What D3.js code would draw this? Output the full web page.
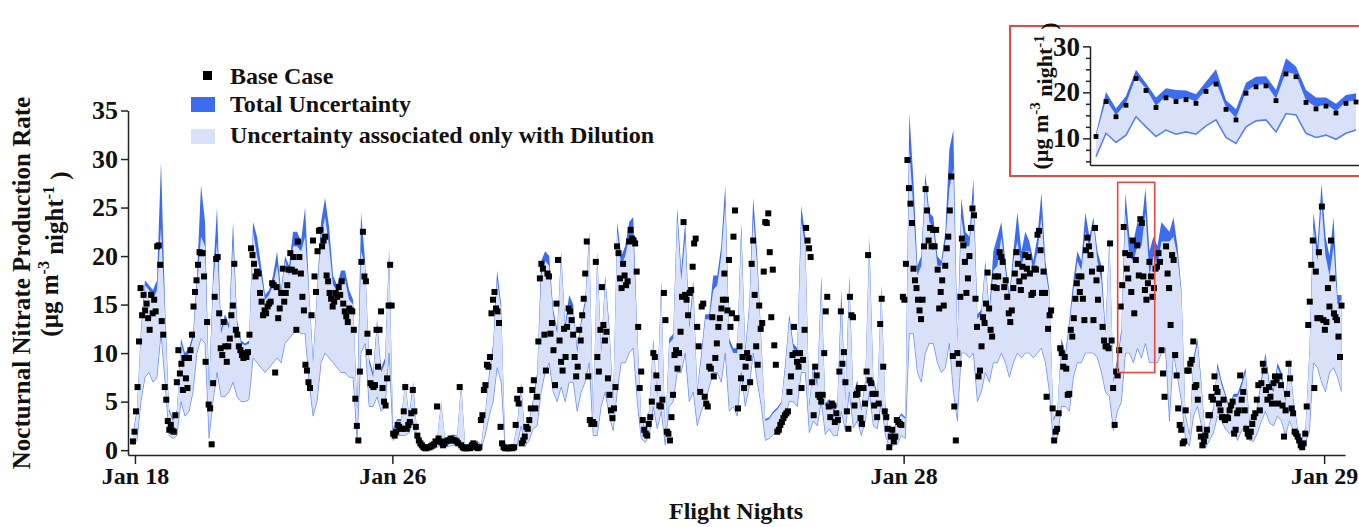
<!DOCTYPE html>
<html>
<head>
<meta charset="utf-8">
<script src="https://cdn.jsdelivr.net/npm/d3@7"></script>
<style>
  body { margin: 0; background: #fff; }
  svg { display: block; }
  text { font-family: "Liberation Serif", "Times New Roman", serif; font-weight: bold; fill: #111; }
</style>
</head>
<body>
<svg id="chart" width="1359" height="527"></svg>
<script>
// base case, one value per sample along the flight nights
const baseCase = [
  0.9,1.9,4.0,6.5,11.2,16.7,13.9,16.0,14.4,15.1,13.6,12.4,16.0,14.1,15.5,14.3,21.0,21.1,19.1,13.3,11.9,6.5,
  5.2,3.0,2.1,2.6,2.0,1.9,3.6,7.0,10.3,7.9,8.9,6.2,9.5,7.4,6.4,9.5,10.3,11.9,14.8,16.3,
  17.5,19.1,20.4,20.3,20.3,17.9,9.1,13.2,4.7,4.3,0.6,6.9,15.8,19.7,19.9,14.1,10.5,9.8,13.2,10.7,
  9.1,10.7,11.5,13.9,14.9,19.2,12.4,11.9,10.7,10.3,9.8,9.5,10.0,9.6,10.1,11.9,20.8,20.1,19.2,17.9,
  18.4,18.2,16.2,15.3,13.9,14.4,14.1,14.8,15.1,15.3,17.2,17.0,8.0,16.8,13.6,14.6,16.2,18.7,15.3,16.2,
  17.0,18.6,20.3,18.6,19.9,18.4,12.4,21.5,19.9,18.2,15.8,14.4,8.8,8.2,7.0,6.4,13.9,21.6,17.9,16.3,
  20.5,22.6,22.7,21.0,21.6,22.0,18.0,17.4,16.2,15.6,14.8,15.3,16.2,15.8,16.8,16.0,17.4,15.1,14.3,13.8,
  13.2,14.6,14.4,14.3,12.4,5.3,2.5,1.0,8.1,19.4,22.5,17.9,17.4,12.0,10.1,6.9,6.7,6.5,6.7,12.4,
  8.6,12.4,14.3,6.4,5.0,4.6,7.4,14.9,19.1,14.9,1.7,1.5,1.9,2.6,2.4,2.2,2.2,4.0,6.5,
  2.2,2.6,2.9,3.8,6.2,4.0,2.4,1.5,1.0,0.7,0.5,0.3,0.2,0.2,0.3,0.3,0.4,0.5,
  0.6,0.9,4.5,1.2,0.9,0.8,0.5,0.7,0.9,1.0,1.0,1.2,1.1,1.0,1.0,0.9,0.7,6.5,0.5,0.3,
  0.2,0.2,0.2,0.3,0.2,0.5,0.7,0.5,0.3,0.2,0.3,3.1,3.6,6.2,6.7,8.8,8.6,9.6,14.1,
  15.5,16.3,14.6,14.3,13.1,2.4,0.7,0.3,0.2,0.2,0.2,0.2,0.3,0.2,0.3,2.6,5.3,4.8,6.2,0.7,
  1.0,1.4,2.4,2.2,3.1,4.3,6.2,7.2,4.3,5.5,11.2,17.7,19.2,18.7,11.9,8.2,18.2,17.9,12.0,13.1,
  10.3,6.7,15.1,19.6,11.3,9.1,8.2,12.5,9.6,12.7,14.6,14.3,13.4,11.9,9.6,7.6,8.6,12.4,11.3,13.9,
  15.6,18.2,21.5,7.6,3.1,2.7,2.9,2.7,19.4,9.6,8.1,12.4,16.8,12.9,11.3,12.2,7.4,5.7,4.1,3.3,
  4.3,6.5,21.0,20.3,17.7,16.7,19.2,
  18.0,17.0,17.4,21.5,22.7,21.8,21.6,21.3,18.4,12.7,6.4,8.1,3.1,2.1,1.7,1.5,2.7,3.4,5.0,
  10.0,9.6,7.7,6.4,4.6,4.5,5.2,16.2,13.4,1.9,1.7,1.0,3.4,5.7,9.8,10.3,8.4,10.0,12.2,15.8,
  23.5,16.0,15.5,13.9,16.2,16.5,18.9,21.3,21.8,12.7,10.7,6.0,14.8,15.1,5.5,4.8,4.5,8.6,8.4,
  13.7,7.6,9.5,11.0,12.7,13.6,14.6,15.5,18.2,15.5,14.4,19.6,12.7,14.1,22.0,24.7,13.6,4.3,
  10.7,7.4,9.6,6.4,8.6,10.0,9.5,7.0,19.2,21.6,16.0,10.7,8.8,14.9,12.5,13.1,18.4,23.5,
  23.4,24.4,20.4,13.7,18.6,10.8,8.8,1.9,2.1,2.6,2.9,3.3,3.6,3.8,4.0,6.0,7.6,
  9.8,12.7,10.0,9.1,8.6,10.0,6.4,9.3,12.4,22.9,21.6,20.8,19.9,7.0,3.6,8.6,7.7,
  5.7,5.5,5.0,5.7,10.0,14.3,15.8,4.5,3.4,4.8,4.6,2.9,3.8,3.1,8.1,14.3,8.9,10.1,
  7.0,4.0,2.2,15.8,13.9,13.7,4.6,5.7,5.8,6.4,3.3,2.7,6.4,4.8,8.1,20.1,7.2,6.9,
  5.8,4.6,5.8,3.4,4.8,13.0,15.6,8.6,4.0,3.4,2.2,0.3,1.4,2.1,0.9,1.4,3.1,2.9,2.7,2.6,15.8,15.5,
  19.2,29.9,27.0,25.4,23.4,18.7,17.5,16.7,15.5,14.4,13.5,15.5,21.0,26.9,24.7,21.6,22.9,21.0,
  22.7,21.0,22.7,18.6,14.6,16.3,17.5,14.9,19.0,20.8,22.0,24.7,28.2,9.7,4.5,1.0,10.0,
  8.9,15.8,21.8,21.1,19.4,16.2,17.7,20.0,22.9,24.9,24.2,15.6,12.7,7.6,8.2,10.7,13.7,13.1,
  15.1,18.3,14.6,12.4,11.7,16.8,17.9,16.7,17.9,20.4,19.9,19.4,16.8,17.5,15.8,14.1,13.2,
  14.4,16.7,18.2,20.4,19.2,17.4,16.5,18.9,17.9,20.1,18.7,19.9,18.2,16.0,16.2,18.7,18.6,
  22.2,22.6,20.6,16.2,18.4,16.2,5.5,12.5,13.9,14.4,4.3,1.0,1.9,2.2,3.8,10.5,10.0,8.6,9.6,
  8.4,5.7,5.8,12.4,11.7,13.6,15.6,17.2,17.9,16.3,17.9,15.6,13.4,20.6,21.9,21.0,20.1,18.4,
  13.4,22.9,17.5,15.5,18.7,18.7,12.7,11.3,10.7,10.7,10.5,
  21.3,11.3,6.4,2.6,8.1,7.7,10.3,14.8,17.0,23.0,20.3,18.7,17.7,20.1,16.3,21.6,14.1,19.6,21.1,18.0,23.8,
  23.4,17.9,16.5,15.5,17.2,19.4,17.9,15.8,16.7,18.7,18.9,20.3,19.4,10.3,7.9,5.5,21.0,18.2,16.7,12.9,20.1,19.6,
  9.8,7.7,4.3,2.6,2.1,0.7,0.9,4.1,8.2,8.2,8.9,9.3,11.2,6.5,6.7,5.2,2.2,1.4,0.5,0.9,1.5,
  2.1,3.6,3.6,5.5,5.2,7.6,6.4,6.0,4.8,4.1,3.4,5.2,3.1,3.4,3.3,4.1,4.6,5.0,1.7,2.1,3.8,4.1,7.7,
  5.2,6.0,4.1,2.2,1.7,1.4,1.9,2.7,3.4,3.8,5.2,6.7,4.1,6.9,8.9,8.2,6.2,5.2,6.5,5.5,4.8,6.9,
  7.6,7.2,4.8,7.6,6.7,4.6,1.4,4.1,5.8,8.9,7.4,4.3,3.8,1.9,1.7,1.4,1.0,0.5,0.3,0.7,1.7,4.5,
  12.9,15.3,19.1,21.6,6.4,18.4,13.6,20.4,13.6,25.1,13.4,12.4,13.2,16.7,14.8,21.6,17.7,14.1,13.7,13.4,11.7,9.6,14.9
]

// uncertainty envelopes, sampled more coarsely over the same span
const bandLow = [
  0.5,1,5,7.5,8,7,7.5,12,7,1.5, 1.2,1.5,5,3.5,4,6,10,11.5,11,1.2, 5,8,5.5,5.5,6,7,5.5,5,5,5.2,
  9.5,9,8.5,8,8.5,9,9.5,9,11,11.5, 12,12.5,12,12,7,3.5,5,9,10,9.5, 9,8.5,8,8,7.5,7.5,1,10,11,4.5, 4.5,5.5,
  4,4.5,10,1,1.5,1.5,1.5,1.8,3,0.6, 0.1,0.05,0.1,0.1,0.3,0.5,0.3,0.4,0.5,0.5, 0.3,0.1,0.05,0.05,0.2,0.1,1.5,3.5,5,8.5,
  7,0.1,0.05,0.05,0.5,2.5,0.4,1,2.2,2.5, 6,8,9,6,5,6.5,5,7,7,4, 6,7,9,1.5,1.5,4.5,6,3.5,2,6, 9,9,
  10,10.5,5,1.2,0.8,1.5,4.5,2.2,4,0.5, 4.5,5,8,8,10,5,6,2.5,4,5, 6.5,8,8,7,10,4,4.5,3.5,8,4.5,
  6.5,10,7,4.5,1,1.2,1.6,1.8,2,3.5, 5,5,4.5,8,8,1.8,3,2.5,5,1.6, 2.2,1.5,1.5,4,2,6,2.3,3,1.5,3, 6,
  2.5,2.2,5,1.5,0.3,0.5,0.6,1.5,1.2,12, 12,8,7,10,11,11,9,8,8.5,11, 6,3,10,10,9.5,10,5,6,8,7,
  9,9,10,9,7.5,9,10,9.5,10,10, 9.5,10,10.5,9,6,0.7,1.3,4.5,4.5,4, 7.5,9,9,10,10,10,9.5,8,6,5.5, 2,
  4,5,10,10,9,10.5,9.5,11,9,9, 9,10,10.5,3,10,7.5,5,1.2,0.4,3.5, 4.5,2.5,0.2,1,1.8,3.5,3,2.2,1.7,2.3,
  1,2,2.6,1,0.9,1.8,3,4,2.8,2.5, 3.5,3,1.5,3,2,0.8,0.2,0.8,2,9, 8.5,7,6,8,8.5,7.5,6
]
const bandDilution = [
  1.5,4,12,17,16.5,15.5,16.5,23,14,4, 3,4,11,9.5,10,11.5,17,22,21,6, 17,21.5,12,13.5,12.5,21.5,13,11,10.8,11,
  22.5,20,18,15.5,16,17,19,16,19.5,18, 21,21,20.5,22,16,9,16,22,24,21, 17,16.5,17.5,17.5,15.5,15,4,20.5,19,9, 7.5,13,
  8,9,20,2,3,3,6.8,3.5,6.5,1.6, 0.6,0.4,0.5,0.6,1.2,4.8,1,1.3,1.5,1.4, 6.8,0.5,0.4,0.4,0.9,0.5,3.6,7.5,10.5,17.5,
  14.5,0.6,0.4,0.4,2.5,6.5,1.3,3,5,7.5, 18,19.5,19,14,12,20,12.5,15,14.5,10, 13,15,22,3.6,20,10,17.5,12.5,5,22.5, 19,20,
  22,22,12,3.3,2,4,11,5.5,17,1.5, 11,11.5,24,17.5,22,12.5,16.5,6,9.5,13.5, 13.5,16.5,17,20,25.5,11,10,10,22.5,10,
  14.5,24,19,11,3,3.2,3.8,4.2,4.8,8.5, 13.5,10.5,10,23.5,21,4.5,8.5,6.5,17,4.5, 5,4,4.5,15,5,17,5.5,6.8,4,7, 21,
  7,5.5,16.5,4.5,1.2,1.8,3,3.6,3.2,31, 25,18,19,27.5,23.5,23,19,19,21.5,27, 29,11,24,21,21,26,13.5,14,19,14,
  18.5,19,22,18.5,15.5,19.5,21.5,19,20.5,20.5, 18.5,20.5,24,18.5,16,3,4,11,9.5,13, 16.5,19.5,18.5,22.5,21,23.5,19.5,17.5,12,21.5, 7,
  9,12,24.5,20,19.5,21,21,24.5,18,20, 19,21.5,21.5,21.5,22,20,16,3.5,1.5,9, 11,6.5,1,2.6,4.2,8.5,6.8,5.5,4.2,5.5,
  5.5,6.5,8,3,2.5,4.5,7,9.5,6.5,6, 8.5,7.5,5,9,5,2.2,0.9,2.2,10,23, 19.5,25.5,20,18,21,15,15.5
]
const bandTotal = [
  1.8,4.3,12.5,17.5,17,16.5,17.5,29.7,15,4.3, 3.2,4.2,11.5,10,10.5,12,18,27.3,23.5,6.5, 18,25,12.5,14,13,23.5,13.5,11.3,11,11.3,
  23.5,22,19,16,16.5,18,20.5,16.5,20,19, 22.5,22.5,21.5,25,16.5,9.5,16.5,23.5,26,23, 18,17,18.5,18.5,16.5,15.5,4.5,24.5,19.5,9.5, 8,13.5,
  8.5,9.5,20.8,2.2,3.2,3.2,7,3.7,7,1.8, 0.7,0.5,0.6,0.7,1.3,5,1.1,1.4,1.6,1.5, 7,0.6,0.5,0.5,1,0.6,3.8,8,11,18.5,
  15,0.7,0.5,0.5,2.7,7,1.4,3.2,5.3,8, 19.5,20.5,20,14.5,12.5,20.5,13,16,15,10.5, 13.5,15.5,22.5,3.8,20.5,10.5,18,13,5.3,23.5, 20,21,
  23.5,24,12.5,3.5,2.2,4.2,11.5,5.8,17.5,1.7, 11.5,12,25,18.5,23.5,13,17.5,6.3,10,14, 14,18,18,21,27.3,11.5,10.5,10.5,23.5,10.5,
  15,26,20,11.5,3.2,3.4,4,4.4,5,9, 14,11,10.5,25.2,22,4.8,9,7,18,4.8, 5.3,4.2,4.8,16.5,5.3,18,5.8,7.2,4.3,7.3, 22,
  7.5,5.8,17,4.8,1.4,2,3.2,3.8,3.4,34.8, 28,19,20,28.5,24.5,24,20,19.5,22.5,31, 33,11.5,26,22.5,22,28,14,14.5,19.5,14.5,
  20.5,22,23.5,19.5,16,20.5,24.5,20.5,22.5,21.5, 19.5,22,26.5,19.5,16.5,3.2,4.2,11.5,10,13.5, 17.5,20.5,19.5,24.5,22,24,20.5,19,12.5,22, 7.3,
  9.5,12.5,26.5,22,21.5,23.5,23,27,20.5,22, 21,23.5,23,22.5,24,21,16.5,3.8,1.7,9.5, 11.5,7,1.2,2.8,4.5,9,7.2,5.8,4.5,5.8,
  5.8,7,8.5,3.2,2.7,4.8,7.5,10,7,6.3, 9,8,5.3,9.5,5.3,2.4,1,2.4,10.5,24.5, 21,27.5,22,20,24,16,16
]

// flight night ticks (sample positions) and labels
const flightTicks = [1.3, 171.5, 509.5, 787.5]
const flightLabels = ['Jan 18', 'Jan 26', 'Jan 28', 'Jan 29']
const yTicks = [0, 5, 10, 15, 20, 25, 30, 35]
const legendLabels = ['Base Case', 'Total Uncertainty', 'Uncertainty associated only with Dilution']

// zoomed window: sample range and value range
const zoomSamples = [651, 675.5]
const zoomValues = [8, 27.6]

// inset (zoomed) series
const insetBase = [10.4,18.0,14.7,17.2,23.0,20.4,16.7,18.8,18.0,18.4,17.6,20.2,21.8,16.3,14.0,19.8,21.2,21.4,18.2,24.0,23.4,17.8,16.4,17.0,15.5,17.6,17.9]
const insetDilution = [10.6,18.4,15.1,17.6,23.4,20.8,17.1,19.2,18.4,18.8,18.0,20.6,22.3,16.7,14.4,20.2,21.6,21.8,18.6,24.5,23.9,18.2,16.8,17.4,15.9,18.0,18.3]
const insetTotal = [11.1,20.1,16.5,19.2,24.9,22.0,18.9,20.9,20.5,20.4,19.6,22.3,25.0,18.3,16.3,22.1,23.4,23.5,20.5,27.4,25.6,20.5,18.9,18.9,17.5,19.4,19.8]
const insetLow = [6.0,11.1,9.1,10.7,14.7,12.5,10.4,11.8,10.9,11.4,10.9,12.7,14.0,10.2,8.9,12.5,13.8,14.0,11.4,15.4,15.1,11.1,10.2,10.7,9.8,11.1,11.8]
const insetTicks = [10, 20, 30]
const insetMinor = [5, 7.5, 12.5, 15, 17.5, 22.5, 25, 27.5]

const totalColor = '#3d6cf0'
const dilutionColor = '#d9e1f8'
const lowColor = '#5a7fef'
const red = '#e8473f'

const svg = d3.select('#chart')

// main scales
const x = d3.scaleLinear().domain([-3.3, baseCase.length + 1.3]).range([128, 1345])
const xb = d3.scaleLinear().domain([0, bandTotal.length - 1]).range([x(0), x(baseCase.length - 1)])
const y = d3.scaleLinear().domain([-0.5, 35]).range([455, 110.5])

const bands = bandTotal.map((t, k) => ({k, lo: bandLow[k], dil: bandDilution[k], tot: t}))

svg.append('path').datum(bands)
    .attr('fill', totalColor)
    .attr('d', d3.area().x(d => xb(d.k)).y0(d => y(d.lo)).y1(d => y(d.tot)))
svg.append('path').datum(bands)
    .attr('fill', dilutionColor)
    .attr('d', d3.area().x(d => xb(d.k)).y0(d => y(d.lo)).y1(d => y(d.dil)))
svg.append('path').datum(bands)
    .attr('fill', 'none').attr('stroke', lowColor).attr('stroke-width', 0.7).attr('opacity', 0.8)
    .attr('d', d3.line().x(d => xb(d.k)).y(d => y(d.lo)))

const ms = 6
svg.append('g').selectAll('rect')
    .data(baseCase)
    .join('rect')
    .attr('x', (d, i) => x(i) - ms / 2)
    .attr('y', d => y(d) - ms / 2)
    .attr('width', ms).attr('height', ms)
    .attr('fill', '#000')

// red box marking the zoomed window
svg.append('rect')
    .attr('x', x(zoomSamples[0])).attr('y', y(zoomValues[1]))
    .attr('width', x(zoomSamples[1]) - x(zoomSamples[0]))
    .attr('height', y(zoomValues[0]) - y(zoomValues[1]))
    .attr('fill', 'none').attr('stroke', red).attr('stroke-width', 1.6)

function styleAxis(g, size) {
    g.select('.domain').attr('stroke', '#222').attr('stroke-width', 1.5)
    g.selectAll('.tick line').attr('stroke', '#222').attr('stroke-width', 1.5)
    g.selectAll('.tick text')
        .attr('font-family', null).attr('fill', '#111')
        .style('font-size', size + 'px').style('font-weight', 'bold')
}

const xAxis = d3.axisBottom(x)
    .tickValues(flightTicks)
    .tickFormat((d, i) => flightLabels[i])
    .tickSize(9).tickSizeOuter(0)
svg.append('g').attr('transform', 'translate(0,455)').call(xAxis).call(g => styleAxis(g, 24))

const yAxis = d3.axisLeft(y).tickValues(yTicks).tickSize(7).tickSizeOuter(0)
svg.append('g').attr('transform', 'translate(128,0)').call(yAxis).call(g => styleAxis(g, 26))

// axis titles
svg.append('text')
    .attr('transform', 'translate(30,283) rotate(-90)')
    .attr('text-anchor', 'middle').style('font-size', '25px')
    .text('Nocturnal Nitrate Production Rate')

function unitLabel(sel, size, supSize) {
    sel.append('tspan').text('(\u00b5g m')
    sel.append('tspan').attr('dy', '-0.55em').style('font-size', supSize + 'px').text('-3')
    sel.append('tspan').attr('dy', '0.55em').text(' night')
    sel.append('tspan').attr('dy', '-0.55em').style('font-size', supSize + 'px').text('-1')
    sel.append('tspan').attr('dy', '0.55em').text(' )')
}
svg.append('text')
    .attr('transform', 'translate(58,254) rotate(-90)')
    .attr('text-anchor', 'middle').style('font-size', '25px')
    .call(unitLabel, 25, 16)

svg.append('text')
    .attr('x', 736).attr('y', 519)
    .attr('text-anchor', 'middle').style('font-size', '24px')
    .text('Flight Nights')

// legend
const legend = svg.append('g')
legend.append('rect').attr('x', 203).attr('y', 71).attr('width', 9).attr('height', 9).attr('fill', '#000')
legend.append('rect').attr('x', 191).attr('y', 97).attr('width', 24).attr('height', 15).attr('fill', totalColor)
legend.append('rect').attr('x', 191).attr('y', 129).attr('width', 24).attr('height', 15).attr('fill', dilutionColor)
legend.selectAll('text.lg')
    .data(legendLabels)
    .join('text')
    .attr('class', 'lg')
    .attr('x', 230)
    .attr('y', (d, i) => [84, 112, 143][i])
    .style('font-size', '24px')
    .text(d => d)

// inset
const inset = svg.append('g')
inset.append('rect')
    .attr('x', 1010).attr('y', 26).attr('width', 360).attr('height', 150)
    .attr('fill', '#fff').attr('stroke', red).attr('stroke-width', 2)

const xi = d3.scaleLinear().domain([-0.6, insetBase.length - 0.7]).range([1090, 1359])
const yi = d3.scaleLinear().domain([4.2, 30.1]).range([165, 45.9])
const insetRows = insetBase.map((b, i) => ({i, lo: insetLow[i], dil: insetDilution[i], tot: insetTotal[i]}))

inset.append('path').datum(insetRows)
    .attr('fill', totalColor)
    .attr('d', d3.area().x(d => xi(d.i)).y0(d => yi(d.lo)).y1(d => yi(d.tot)))
inset.append('path').datum(insetRows)
    .attr('fill', dilutionColor)
    .attr('d', d3.area().x(d => xi(d.i)).y0(d => yi(d.lo)).y1(d => yi(d.dil)))
inset.append('path').datum(insetRows)
    .attr('fill', 'none').attr('stroke', lowColor).attr('stroke-width', 1.6)
    .attr('d', d3.line().x(d => xi(d.i)).y(d => yi(d.lo)))
inset.append('g').selectAll('rect')
    .data(insetBase)
    .join('rect')
    .attr('x', (d, i) => xi(i) - 2.4)
    .attr('y', d => yi(d) - 2.4)
    .attr('width', 4.8).attr('height', 4.8)
    .attr('fill', '#000')

inset.append('g').attr('transform', 'translate(0,165)')
    .call(d3.axisBottom(xi).tickValues([]).tickSizeOuter(0))
    .call(g => styleAxis(g, 24))
inset.append('g').attr('transform', 'translate(1090,0)')
    .call(d3.axisLeft(yi).tickValues(insetTicks).tickSize(7).tickSizeOuter(0))
    .call(g => styleAxis(g, 27))
inset.append('g').attr('transform', 'translate(1090,0)')
    .call(d3.axisLeft(yi).tickValues(insetMinor).tickSize(4).tickFormat(''))
    .call(g => { styleAxis(g, 10); g.select('.domain').remove() })

inset.append('text')
    .attr('transform', 'translate(1048,96) rotate(-90)')
    .attr('text-anchor', 'middle').style('font-size', '22px')
    .call(unitLabel, 22, 15)
</script>
</body>
</html>
